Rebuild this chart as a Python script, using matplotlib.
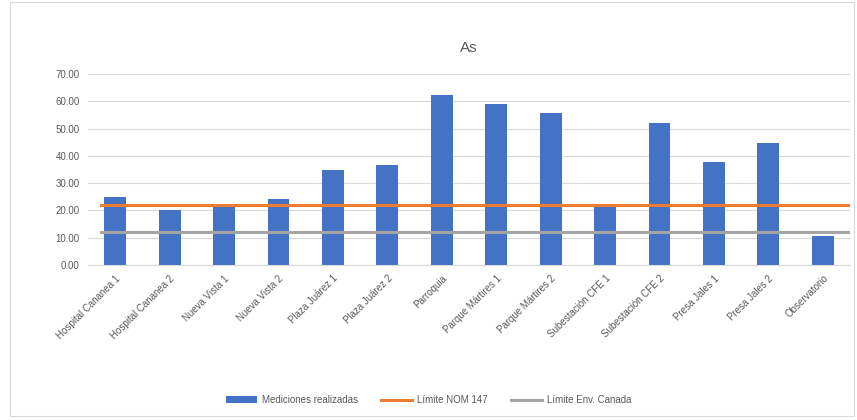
import numpy as np
import matplotlib.pyplot as plt
from matplotlib.patches import Rectangle

# sampling sites and measured arsenic (mg/kg)
sitios = ["Hospital Cananea 1", "Hospital Cananea 2", "Nueva Vista 1", "Nueva Vista 2",
          "Plaza Juárez 1", "Plaza Juárez 2", "Parroquia", "Parque Mártires 1",
          "Parque Mártires 2", "Subestación CFE 1", "Subestación CFE 2",
          "Presa Jales 1", "Presa Jales 2", "Observatorio"]
mediciones = [25.0, 20.2, 21.3, 24.3, 35.0, 36.6, 62.2, 59.0, 55.7, 21.3, 52.0, 37.8, 44.7, 10.6]
limite_nom = 22.0
limite_canada = 12.0

plt.rcParams['font.family'] = ['Liberation Sans', 'DejaVu Sans']
txt = '#595959'

fig = plt.figure(figsize=(8.57, 4.2), dpi=100)
fig.patches.append(Rectangle((0.012, 0.01), 0.985, 0.985, transform=fig.transFigure,
                             fill=False, edgecolor='#D9D9D9', linewidth=0.8))
ax = fig.add_axes([88 / 857, 155 / 420, 762 / 857, 191 / 420])

x = np.arange(len(sitios))
b = ax.bar(x, mediciones, width=0.4, color='#4472C4', label='Mediciones realizadas', zorder=2)
l1 = ax.axhline(limite_nom, xmin=0.017, xmax=0.998, color='#ED7D31', linewidth=2.2,
                label='Límite NOM 147', zorder=3)
l2 = ax.axhline(limite_canada, xmin=0.017, xmax=0.998, color='#A5A5A5', linewidth=2.2,
                label='Límite Env. Canada', zorder=3)

ax.set_xlim(-0.5, len(sitios) - 0.5)
ax.set_ylim(0, 70)
ax.set_yticks(np.arange(0, 71, 10))
ax.set_yticklabels([f'{v:.2f}' for v in range(0, 71, 10)], fontsize=7, color=txt)
ax.set_xticks(x)
ax.set_xticklabels(sitios, rotation=45, ha='right', rotation_mode='anchor', fontsize=7, color=txt)
ax.tick_params(axis='both', length=0, pad=6)
ax.grid(axis='y', color='#D9D9D9', linewidth=0.8, zorder=0)
for s in ['top', 'right', 'left']:
    ax.spines[s].set_visible(False)
ax.spines['bottom'].set_color('#D9D9D9')

ax.set_title('As', fontsize=11, color=txt, pad=16)

fig.legend(handles=[b, l1, l2], loc='center', bbox_to_anchor=(0.5, 20 / 420), ncol=3,
           frameon=False, fontsize=7, labelcolor=txt, handlelength=3.2, handletextpad=0.5,
           columnspacing=2.4)

fig.savefig('out.png', dpi=100, facecolor='white')
